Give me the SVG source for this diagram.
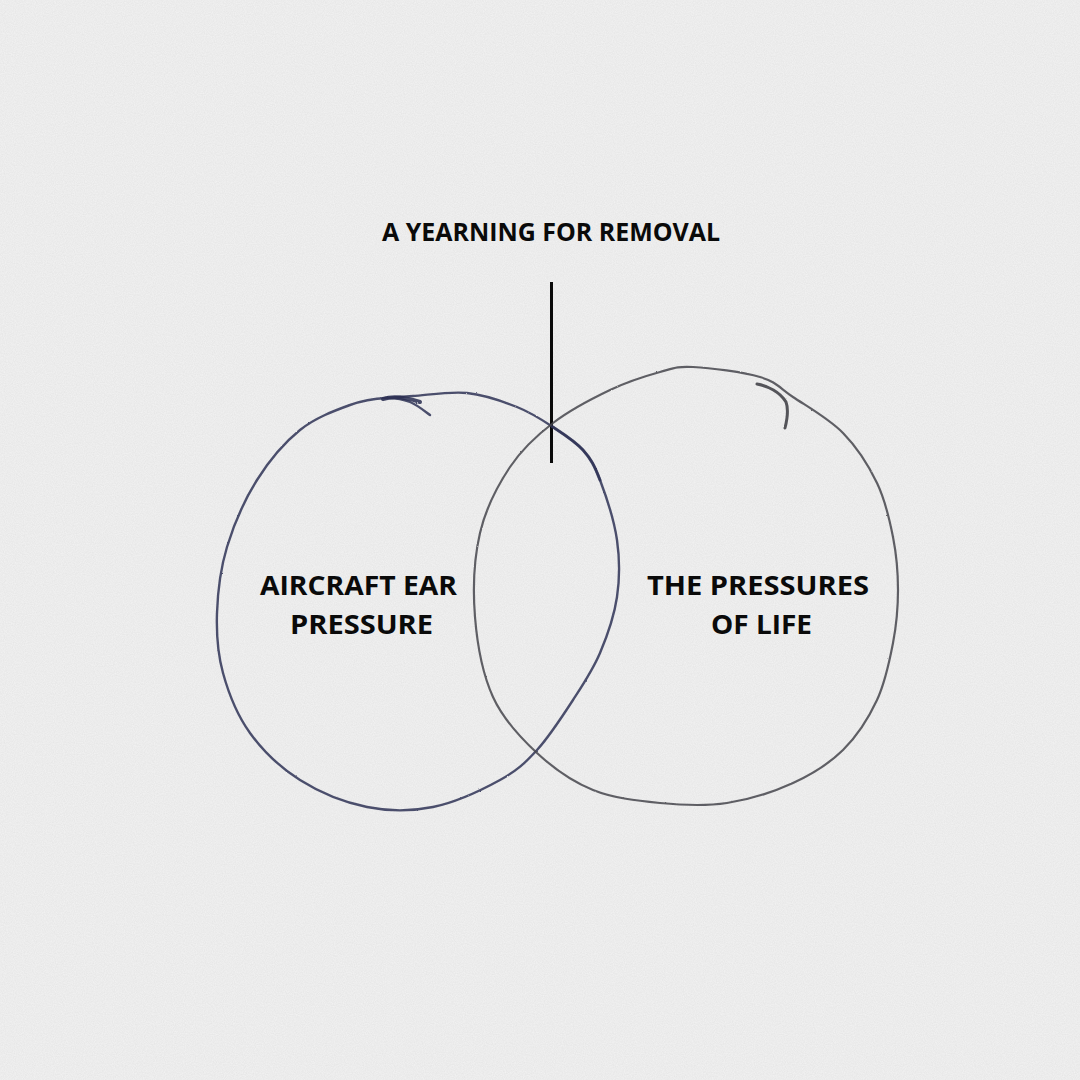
<svg xmlns="http://www.w3.org/2000/svg" width="1080" height="1080" viewBox="0 0 1080 1080">
  <defs>
    <filter id="grain" x="0" y="0" width="100%" height="100%">
      <feTurbulence type="fractalNoise" baseFrequency="0.9" numOctaves="2" seed="3" result="n"/>
      <feColorMatrix type="matrix" values="0 0 0 0 0  0 0 0 0 0  0 0 0 0 0  0 0 0 0.06 0" in="n"/>
    </filter>
    <filter id="pencil" x="-5%" y="-5%" width="110%" height="110%">
      <feTurbulence type="fractalNoise" baseFrequency="1.2" numOctaves="2" seed="7" result="t"/>
      <feDisplacementMap in="SourceGraphic" in2="t" scale="1.6" xChannelSelector="R" yChannelSelector="G"/>
    </filter>
  </defs>
  <style>
    .lbl { font-family: "Open Sans", "Liberation Sans", sans-serif; font-weight: 700; fill: #0a0a0a; text-anchor: middle; }
    .left { fill: none; stroke: #2f3456; stroke-width: 2.4; stroke-linecap: round; stroke-linejoin: round; opacity: 0.85; }
    .right { fill: none; stroke: #46464c; stroke-width: 2.2; stroke-linecap: round; stroke-linejoin: round; opacity: 0.85; }
  </style>
  <rect width="1080" height="1080" fill="#f3f3f3"/>
  <rect width="1080" height="1080" filter="url(#grain)"/>

  <g id="connectors">
    <line x1="551.5" y1="282" x2="551.5" y2="463" stroke="#0a0a0a" stroke-width="3"/>
  </g>

  <g id="circle-left" filter="url(#pencil)">
    <path class="left" d="M430,415 C426.7,412.8 417.2,404.8 410,402 C402.8,399.2 397,397.5 387,398 C377,398.5 364.5,399.7 350,405 C335.5,410.3 315.5,417.5 300,430 C284.5,442.5 269.2,460.5 257,480 C244.8,499.5 233.7,524.8 227,547 C220.3,569.2 217.7,592 217,613 C216.3,634 217.5,653 223,673 C228.5,693 237.2,715.2 250,733 C262.8,750.8 280.5,767.7 300,780 C319.5,792.3 344.8,802.5 367,807 C389.2,811.5 410.8,811.5 433,807 C455.2,802.5 482.7,789.5 500,780 C517.3,770.5 524.8,763.3 537,750 C549.2,736.7 562.5,716.2 573,700 C583.5,683.8 592.7,670.2 600,653 C607.3,635.8 614.2,615.8 617,597 C619.8,578.2 619.8,559.5 617,540 C614.2,520.5 605.7,495 600,480 C594.3,465 590.8,458.8 583,450 C575.2,441.2 564,434.2 553,427 C542,419.8 531.3,412.7 517,407 C502.7,401.3 484.3,394.8 467,393 C449.7,391.2 426.7,395.2 413,396 C399.3,396.8 389.7,397.7 385,398"/>
    <path d="M383,399 C392,396 405,397 420,402" fill="none" stroke="#2a2f52" stroke-width="4" stroke-linecap="round" opacity="0.85"/>
    <path d="M553,427 C564,434.2 575.2,441.2 583,450 C590.8,458.8 594.3,465 600,480" fill="none" stroke="#2f3456" stroke-width="3" stroke-linecap="round" opacity="0.8"/>
  </g>

  <g id="circle-right" filter="url(#pencil)">
    <path class="right" d="M693,367 C709.7,367.8 743.3,372 760,377 C776.7,382 779.2,387.7 793,397 C806.8,406.3 829,418.7 843,433 C857,447.3 868.7,465.7 877,483 C885.3,500.3 889.5,519.2 893,537 C896.5,554.8 898,572.3 898,590 C898,607.7 896.5,624.7 893,643 C889.5,661.3 885.3,682.2 877,700 C868.7,717.8 857,736.2 843,750 C829,763.8 812.3,774.2 793,783 C773.7,791.8 749.2,799.7 727,803 C704.8,806.3 682.3,805.2 660,803 C637.7,800.8 613.5,798.3 593,790 C572.5,781.7 553.7,768.5 537,753 C520.3,737.5 503.3,719.7 493,697 C482.7,674.3 477.2,644.3 475,617 C472.8,589.7 474.2,558 480,533 C485.8,508 497.8,485.3 510,467 C522.2,448.7 536.3,435.8 553,423 C569.7,410.2 592.2,398.5 610,390 C627.8,381.5 646.2,375.8 660,372 C673.8,368.2 676.3,366.2 693,367"/>
    <path d="M757,384 C768,386 780,392 786,402 C789,410 787,420 785,428" fill="none" stroke="#3a3a40" stroke-width="3" stroke-linecap="round" opacity="0.85"/>
  </g>

  <g id="label-top">
    <text class="lbl" x="551" y="241" font-size="24.5" textLength="338" lengthAdjust="spacingAndGlyphs">A YEARNING FOR REMOVAL</text>
  </g>
  <g id="label-left">
    <text class="lbl" x="358.5" y="595" font-size="27.5" textLength="197" lengthAdjust="spacingAndGlyphs">AIRCRAFT EAR</text>
    <text class="lbl" x="361.5" y="634" font-size="27.5" textLength="143" lengthAdjust="spacingAndGlyphs">PRESSURE</text>
  </g>
  <g id="label-right">
    <text class="lbl" x="758" y="595" font-size="27.5" textLength="222" lengthAdjust="spacingAndGlyphs">THE PRESSURES</text>
    <text class="lbl" x="761.5" y="634" font-size="27.5" textLength="101" lengthAdjust="spacingAndGlyphs">OF LIFE</text>
  </g>
</svg>
